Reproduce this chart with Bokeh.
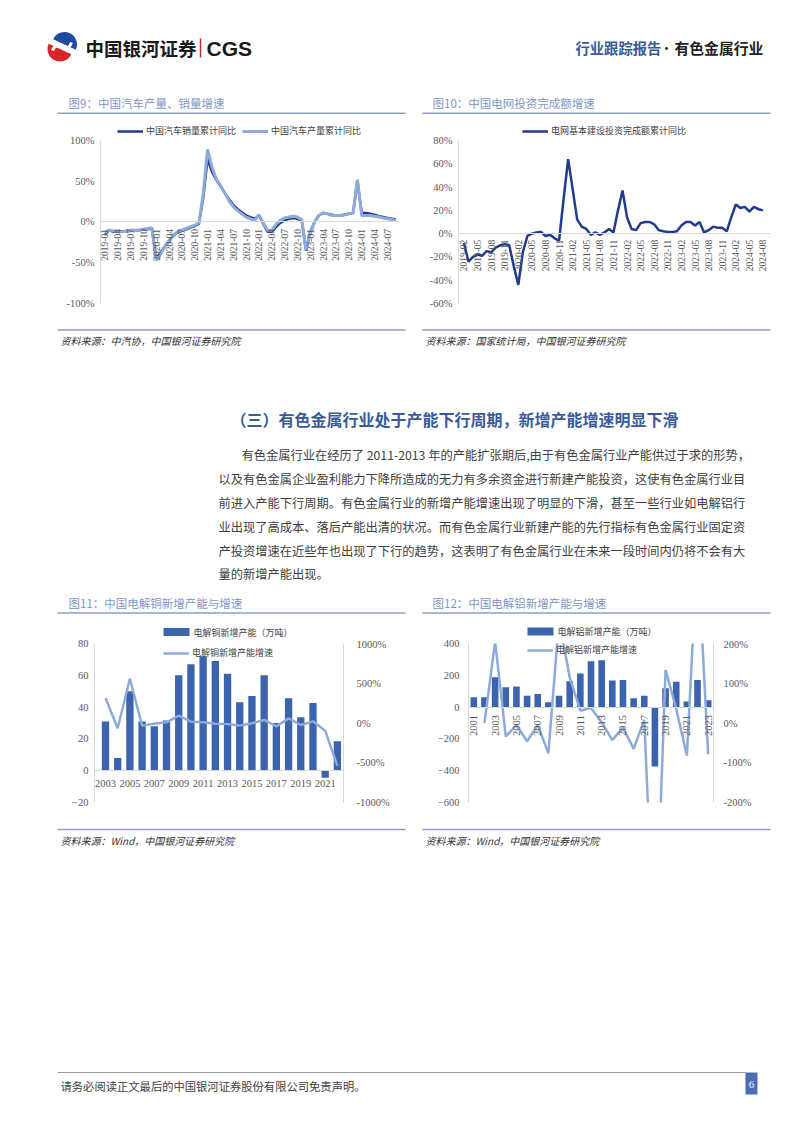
import math
from bokeh.plotting import figure
from bokeh.layouts import column, row
from bokeh.models import (Range1d, LinearAxis, FixedTicker, PrintfTickFormatter,
                          Legend, LegendItem, ColumnDataSource, AllLabels)
from bokeh.core.properties import value
from bokeh.embed import file_html
from bokeh.resources import INLINE

CJK = "Noto Sans CJK SC"
NUM = "Liberation Serif"
GRAY = "#595959"
AXIS = "#d9d9d9"
NAVY = "#1f3c8f"
LIGHT = "#8eaadb"
BAR = "#3c63ae"
TITLE = "#7f95c6"
RULE = "#8c9fc8"

# ---------------- data ----------------
auto_months = [f"{y}-{m:02d}" for y in range(2019, 2025) for m in range(1, 13)][:69]
auto_sales = [-16, -10, -12, -12, -12, -11, -11, -10, -10, -9, -9, -8,
              -44, -38, -30, -23, -17, -13, -11, -9, -7, -5, -2, 30,
              77, 62, 52, 44, 36, 28, 21, 16, 12, 8, 6, 4,
              8, -2, -12, -12, -6, -1, 2, 4, 5, 4, 2, -35,
              -12, 0, 8, 11, 10, 9, 8, 8, 9, 10, 11, 51,
              11, 11, 10, 9, 7, 6, 5, 4, 3]
auto_prod = [-13, -10, -11, -11, -12, -11, -10, -10, -10, -9, -8, -7,
             -47, -40, -30, -24, -16, -12, -10, -8, -6, -4, -1, 35,
             89, 68, 53, 45, 36, 26, 19, 14, 10, 6, 4, 2,
             9, -1, -10, -10, -3, 2, 5, 6, 7, 6, 3, -34,
             -14, 0, 8, 11, 10, 8, 8, 8, 9, 10, 11, 52,
             8, 8, 8, 7, 6, 5, 4, 3, 2]

grid_months = [f"{y}-{m:02d}" for y in range(2019, 2025) for m in range(1, 13)][1:68]
grid_invest = [-8, -24, -20, -18, -19, -15, -16, -12, -10, -9, -10,
               -28, -44, -16, -2, 0, 1, 1.5, -2, -1, -4, -6,
               30, 64, 38, 12, 6, 4, -1, 1, -1, 1, 4, 1,
               20, 37, 14, 4, 3, 9, 10, 10, 8, 3, 2, 1.5,
               1.5, 2, 7, 10, 10, 7, 10, 1, 3, 6, 5, 5,
               2, 14, 25, 22, 23, 19, 23, 21, 20]

cu_years = list(range(2003, 2023))
cu_capacity = [31, 8, 50, 31, 28, 31.5, 60, 67, 72, 69, 61, 43, 47, 60, 30, 45.5, 33.6, 42.6, -4.4, 18.6]
cu_growth = [314, -67, 560, -35, -8, 8, 92, 17, 8, -8, -12, -33, -4, 38, -42, 58, -25, 21, -96, -540]
cu_tick_years = list(range(2003, 2023, 2))

al_years = list(range(2001, 2024))
al_capacity = [62, 62, 187, 125, 129, 72, 83, 30, 72, 162, 212, 288, 294, 168, 170, 56, 72, -374, 118, 160, 35, 170, 43]
al_growth_years = list(range(2002, 2024))
al_growth = [0, 205, -34, -5, -46, -5, -76, 260, 115, 31, 38, 2, -43, -11, -65, 8, -612, 133, 36, -82, 439, -79]
al_tick_years = list(range(2001, 2024, 2))

para_lines = [
    "有色金属行业在经历了 2011-2013 年的产能扩张期后,由于有色金属行业产能供过于求的形势，",
    "以及有色金属企业盈利能力下降所造成的无力有多余资金进行新建产能投资，这使有色金属行业目",
    "前进入产能下行周期。有色金属行业的新增产能增速出现了明显的下滑，甚至一些行业如电解铝行",
    "业出现了高成本、落后产能出清的状况。而有色金属行业新建产能的先行指标有色金属行业固定资",
    "产投资增速在近些年也出现了下行的趋势，这表明了有色金属行业在未来一段时间内仍将不会有大",
    "量的新增产能出现。",
]


# ---------------- helpers ----------------
def blank(w, h):
    f = figure(width=w, height=h, x_range=Range1d(0, w), y_range=Range1d(h, 0),
               output_backend="svg", toolbar_location=None, min_border=0,
               x_axis_type=None, y_axis_type=None, outline_line_color=None,
               background_fill_color="white", border_fill_color="white")
    f.grid.visible = False
    return f


def txt(f, x, y, s, size, color="#333333", font=CJK, style="normal", align="left", baseline="middle"):
    f.text(x=[x], y=[y], text=[s], text_font=value(font), text_font_size=size,
           text_color=color, text_font_style=style, text_align=align, text_baseline=baseline)


def chart_fig(w, h, left, right, top, bottom, xr, yr):
    p = figure(width=w, height=h, x_range=Range1d(*xr), y_range=Range1d(*yr),
               output_backend="svg", toolbar_location=None,
               x_axis_type=None, y_axis_type=None,
               min_border_left=left, min_border_right=right,
               min_border_top=top, min_border_bottom=bottom,
               outline_line_color=None, background_fill_color="white",
               border_fill_color="white")
    return p


def style_axis(ax, ticks, fmt=None, standoff=10, size="10.5px"):
    ax.ticker = FixedTicker(ticks=ticks)
    if fmt:
        ax.formatter = PrintfTickFormatter(format=fmt)
    ax.axis_line_color = AXIS
    ax.axis_line_width = 1
    ax.major_tick_line_color = None
    ax.minor_tick_line_color = None
    ax.major_tick_in = 0
    ax.major_tick_out = 0
    ax.major_label_text_font = NUM
    ax.major_label_text_font_size = size
    ax.major_label_text_color = GRAY
    ax.major_label_standoff = standoff
    ax.major_label_policy = AllLabels()


def cat_axis(p, ticks, labels, vertical, standoff, size):
    ax = LinearAxis(fixed_location=0)
    style_axis(ax, ticks, standoff=standoff, size=size)
    ax.major_label_overrides = {t: l for t, l in zip(ticks, labels)}
    if vertical:
        ax.major_label_orientation = math.pi / 2
    p.add_layout(ax, "below")


def style_legend(leg):
    leg.padding = 0
    leg.margin = 0
    leg.border_line_color = None
    leg.background_fill_alpha = 0
    leg.label_text_font = CJK
    leg.label_text_font_size = "9px"
    leg.label_text_color = "#404040"
    leg.glyph_width = 26
    leg.glyph_height = 12
    leg.label_standoff = 3
    leg.label_height = 12
    leg.label_width = 10


# ---------------- header ----------------
hdr = blank(802, 90)
hdr.wedge(x=[64], y=[44], radius=12.5, start_angle=math.radians(-25), end_angle=math.radians(155),
          fill_color="#1f4aa0", line_color=None)
hdr.wedge(x=[59.5], y=[48.5], radius=12.5, start_angle=math.radians(155), end_angle=math.radians(335),
          fill_color="#d6262c", line_color=None)
hdr.bezier(x0=[52], y0=[50], x1=[71], y1=[42], cx0=[58], cy0=[36], cx1=[65], cy1=[57],
           line_color="white", line_width=3)
txt(hdr, 85, 47.5, "中国银河证券", "18.5px", "#1a1a1a", style="bold")
hdr.line(x=[200, 200], y=[38, 57], line_color="#c0282d", line_width=1.5)
txt(hdr, 206, 47.5, "CGS", "21px", "#1a1a1a", font="Liberation Sans", style="bold")
txt(hdr, 575, 46.5, "行业跟踪报告", "14.3px", "#3a5a9b", style="bold")
txt(hdr, 666, 46.5, "·", "14px", "#333333", align="center")
txt(hdr, 674, 46.5, "有色金属行业", "14.8px", "#222222", style="bold")

# ---------------- row 1 titles ----------------
tt1 = blank(802, 32)
txt(tt1, 68, 12.7, "图9：中国汽车产量、销量增速", "11.5px", TITLE)
tt1.line(x=[57, 405], y=[22.7, 22.7], line_color=RULE, line_width=1.5)
txt(tt1, 432, 12.7, "图10：中国电网投资完成额增速", "11.5px", TITLE)
tt1.line(x=[422, 770], y=[22.7, 22.7], line_color=RULE, line_width=1.5)

# ---------------- chart 9 ----------------
p9 = chart_fig(411, 203, 100, 13, 2, 22, (-1.0, 68.6), (-100, 119.6))
ax = LinearAxis(bounds=(-100, 100))
style_axis(ax, [-100, -50, 0, 50, 100], "%d%%", standoff=6)
p9.add_layout(ax, "left")
s9 = ColumnDataSource(dict(x=list(range(len(auto_months))), sales=auto_sales, prod=auto_prod))
r9a = p9.line("x", "sales", source=s9, line_color=NAVY, line_width=2.5)
r9b = p9.line("x", "prod", source=s9, line_color=LIGHT, line_width=3)
t9 = list(range(0, len(auto_months), 3))
cat_axis(p9, t9, [auto_months[i] for i in t9], True, 7, "9.5px")
leg9 = Legend(items=[LegendItem(label="中国汽车销量累计同比", renderers=[r9a]),
                     LegendItem(label="中国汽车产量累计同比", renderers=[r9b])],
              location=(17, 166), orientation="horizontal", spacing=6)
style_legend(leg9)
p9.add_layout(leg9)

# ---------------- chart 10 ----------------
p10 = chart_fig(391, 203, 47, 32, 2, 22, (-1.2, 67.66), (-60, 93.74))
ax = LinearAxis(bounds=(-60, 80))
style_axis(ax, [-60, -40, -20, 0, 20, 40, 60, 80], "%d%%", standoff=6)
p10.add_layout(ax, "left")
s10 = ColumnDataSource(dict(x=list(range(len(grid_months))), v=grid_invest))
r10 = p10.line("x", "v", source=s10, line_color=NAVY, line_width=2.5)
t10 = list(range(0, len(grid_months), 3))
cat_axis(p10, t10, [grid_months[i] for i in t10], True, 6, "9.5px")
leg10 = Legend(items=[LegendItem(label="电网基本建设投资完成额累计同比", renderers=[r10])],
               location=(64, 166), orientation="horizontal")
style_legend(leg10)
p10.add_layout(leg10)

# ---------------- row 1 sources ----------------
so1 = blank(802, 25)
so1.line(x=[57, 405], y=[4.5, 4.5], line_color=RULE, line_width=1.5)
so1.line(x=[422, 770], y=[4.5, 4.5], line_color=RULE, line_width=1.5)
txt(so1, 60, 15, "资料来源：中汽协，中国银河证券研究院", "10px", "#333333", style="italic")
txt(so1, 425, 15, "资料来源：国家统计局，中国银河证券研究院", "10px", "#333333", style="italic")

# ---------------- body text ----------------
body = blank(802, 240)
txt(body, 230, 68, "（三）有色金属行业处于产能下行周期，新增产能增速明显下滑", "16px", "#3a5a9b", style="bold")
line_y = [104, 128, 152, 176, 200, 223]
for i, s in enumerate(para_lines):
    txt(body, 241 if i == 0 else 218, line_y[i], s, "12.25px", "#404040")

# ---------------- row 2 titles + bar legend items ----------------
tt2 = blank(802, 48)
txt(tt2, 68, 12.5, "图11：中国电解铜新增产能与增速", "11.5px", TITLE)
tt2.line(x=[57, 405], y=[22.5, 22.5], line_color=RULE, line_width=1.5)
txt(tt2, 432, 12.5, "图12：中国电解铝新增产能与增速", "11.5px", TITLE)
tt2.line(x=[422, 770], y=[22.5, 22.5], line_color=RULE, line_width=1.5)
tt2.rect(x=[176], y=[41.5], width=26, height=8, fill_color=BAR, line_color=None)
txt(tt2, 193, 41.5, "电解铜新增产能（万吨）", "9px", "#404040")
tt2.rect(x=[540], y=[41], width=26, height=8, fill_color=BAR, line_color=None)
txt(tt2, 557, 41, "电解铝新增产能（万吨）", "9px", "#404040")

# ---------------- chart 11 ----------------
p11 = chart_fig(411, 187, 94, 68, 5, 23, (2002.1, 2022.5), (-20, 80))
p11.extra_y_ranges = {"pct": Range1d(-1000, 1000)}
ax = LinearAxis()
style_axis(ax, [-20, 0, 20, 40, 60, 80], standoff=6)
p11.add_layout(ax, "left")
ax2 = LinearAxis(y_range_name="pct")
style_axis(ax2, [-1000, -500, 0, 500, 1000], "%d%%", standoff=13)
p11.add_layout(ax2, "right")
s11 = ColumnDataSource(dict(x=cu_years, cap=cu_capacity, g=cu_growth))
p11.vbar(x="x", top="cap", width=0.6, source=s11, fill_color=BAR, line_color=None)
r11b = p11.line("x", "g", source=s11, y_range_name="pct", line_color=LIGHT, line_width=2.5)
cat_axis(p11, cu_tick_years, [str(v) for v in cu_tick_years], False, 9, "10.5px")
leg11 = Legend(items=[LegendItem(label="电解铜新增产能增速", renderers=[r11b])],
               location=(69, 143), orientation="vertical")
style_legend(leg11)
p11.add_layout(leg11)

# ---------------- chart 12 ----------------
p12 = chart_fig(391, 187, 57, 89, 5, 23, (2000.5, 2023.5), (-600, 400))
p12.extra_y_ranges = {"pct": Range1d(-200, 200)}
ax = LinearAxis()
style_axis(ax, [-600, -400, -200, 0, 200, 400], standoff=9)
p12.add_layout(ax, "left")
ax2 = LinearAxis(y_range_name="pct")
style_axis(ax2, [-200, -100, 0, 100, 200], "%d%%", standoff=10)
p12.add_layout(ax2, "right")
s12a = ColumnDataSource(dict(x=al_years, cap=al_capacity))
s12b = ColumnDataSource(dict(x=al_growth_years, g=al_growth))
p12.vbar(x="x", top="cap", width=0.62, source=s12a, fill_color=BAR, line_color=None)
r12b = p12.line("x", "g", source=s12b, y_range_name="pct", line_color=LIGHT, line_width=2.5)
cat_axis(p12, al_tick_years, [str(v) for v in al_tick_years], True, 8, "10.5px")
leg12 = Legend(items=[LegendItem(label="电解铝新增产能增速", renderers=[r12b])],
               location=(59, 146), orientation="vertical")
style_legend(leg12)
p12.add_layout(leg12)

# ---------------- row 2 sources ----------------
so2 = blank(802, 25)
so2.line(x=[57, 405], y=[4, 4], line_color=RULE, line_width=1.5)
so2.line(x=[422, 770], y=[4, 4], line_color=RULE, line_width=1.5)
txt(so2, 60, 15, "资料来源：Wind，中国银河证券研究院", "10px", "#333333", style="italic")
txt(so2, 425, 15, "资料来源：Wind，中国银河证券研究院", "10px", "#333333", style="italic")

# ---------------- footer ----------------
foot = blank(802, 283)
foot.line(x=[57, 745], y=[222, 222], line_color="#9a9a9a", line_width=1)
txt(foot, 60, 235, "请务必阅读正文最后的中国银河证券股份有限公司免责声明。", "11.3px", "#404040")
foot.rect(x=[751], y=[233], width=12, height=22, fill_color="#4a6db3", line_color=None)
txt(foot, 751, 234, "6", "11px", "white", font=NUM, align="center")

page = column(hdr, tt1, row(p9, p10), so1, body, tt2, row(p11, p12), so2, foot)

open("out.html", "w").write(file_html(page, INLINE))
